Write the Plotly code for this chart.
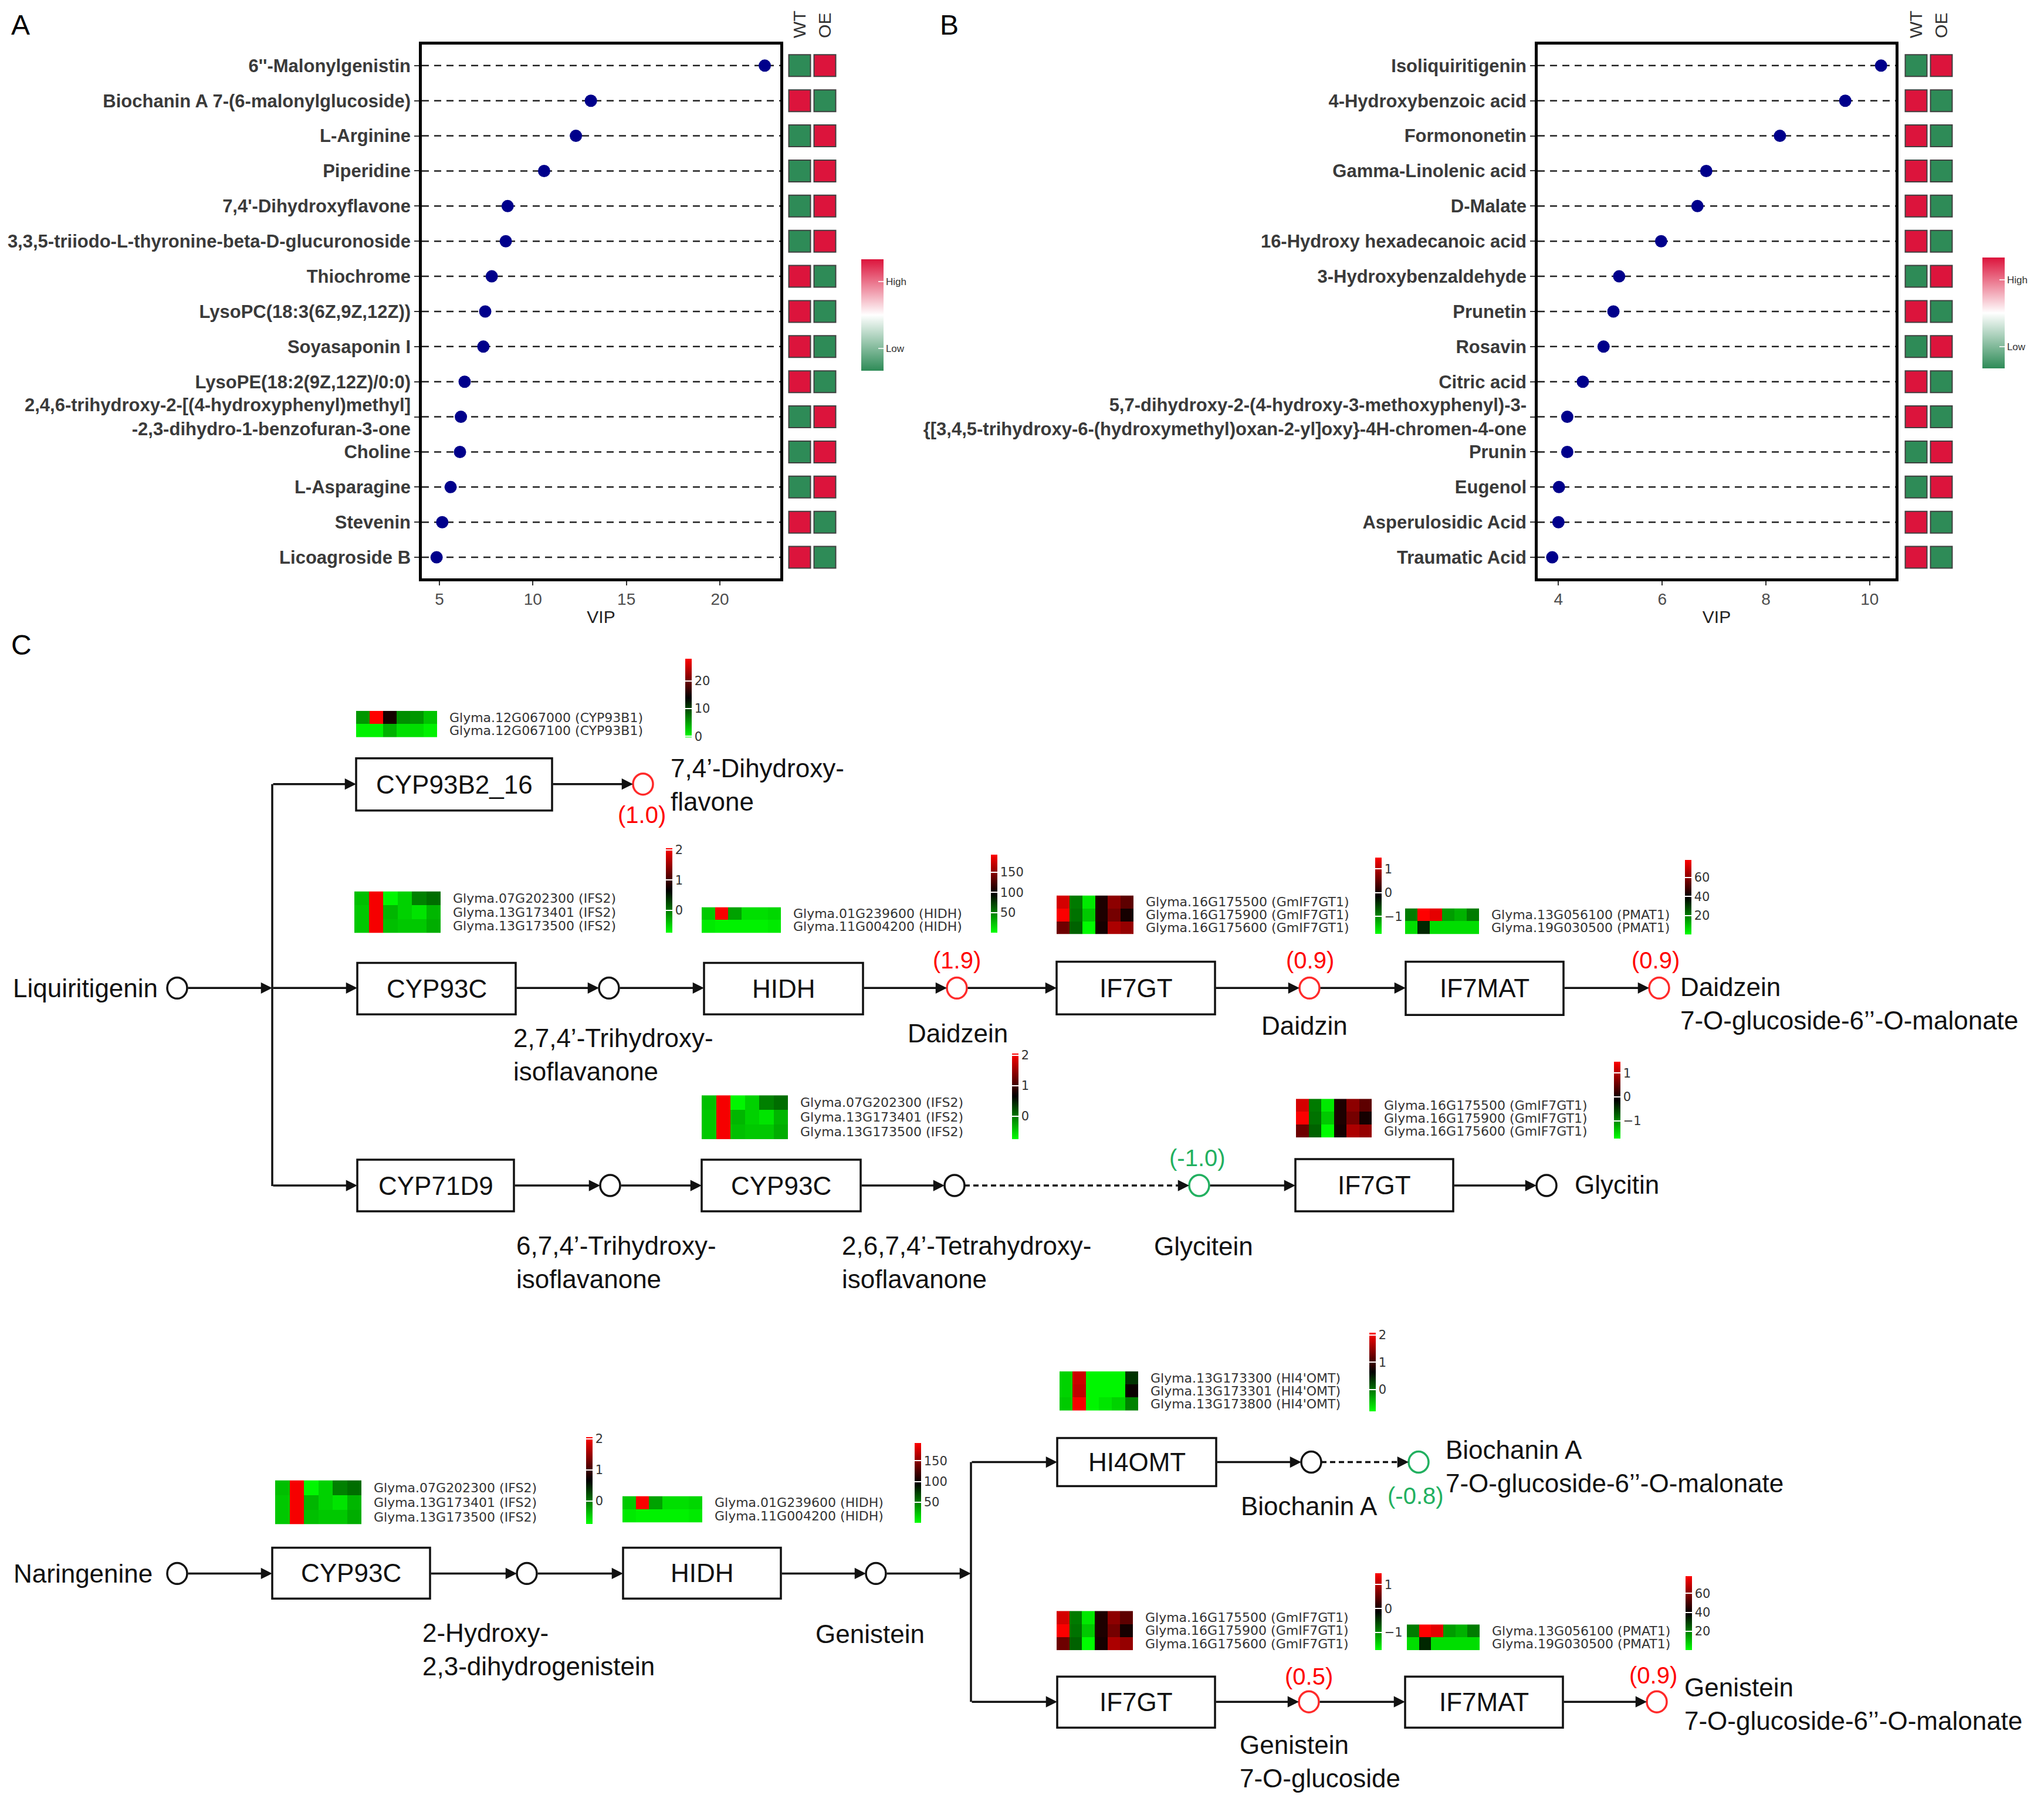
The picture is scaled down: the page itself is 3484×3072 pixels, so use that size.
import plotly.graph_objects as go

W, H = 3484, 3072
OFF = 8  # page margin compensation (px)
FONT = "Liberation Sans"
GFONT = "DejaVu Sans"
RED = "#DC143C"
GREEN = "#2E8B57"

# ---------------- Panel A data ----------------
a_names = ["6''-Malonylgenistin", "Biochanin A 7-(6-malonylglucoside)", "L-Arginine", "Piperidine",
           "7,4'-Dihydroxyflavone", "3,3,5-triiodo-L-thyronine-beta-D-glucuronoside", "Thiochrome",
           "LysoPC(18:3(6Z,9Z,12Z))", "Soyasaponin I", "LysoPE(18:2(9Z,12Z)/0:0)",
           "2,4,6-trihydroxy-2-[(4-hydroxyphenyl)methyl]<br>-2,3-dihydro-1-benzofuran-3-one",
           "Choline", "L-Asparagine", "Stevenin", "Licoagroside B"]
a_vip = [22.4, 13.1, 12.3, 10.6, 8.65, 8.55, 7.8, 7.45, 7.35, 6.35, 6.15, 6.1, 5.6, 5.15, 4.85]
a_wt = [0, 1, 0, 0, 0, 0, 1, 1, 1, 1, 0, 0, 0, 1, 1]
a_oe = [1, 0, 1, 1, 1, 1, 0, 0, 0, 0, 1, 1, 1, 0, 0]
a_ticks = [5, 10, 15, 20]

# ---------------- Panel B data ----------------
b_names = ["Isoliquiritigenin", "4-Hydroxybenzoic acid", "Formononetin", "Gamma-Linolenic acid",
           "D-Malate", "16-Hydroxy hexadecanoic acid", "3-Hydroxybenzaldehyde", "Prunetin", "Rosavin",
           "Citric acid",
           "5,7-dihydroxy-2-(4-hydroxy-3-methoxyphenyl)-3-<br>{[3,4,5-trihydroxy-6-(hydroxymethyl)oxan-2-yl]oxy}-4H-chromen-4-one",
           "Prunin", "Eugenol", "Asperulosidic Acid", "Traumatic Acid"]
b_vip = [10.22, 9.53, 8.27, 6.85, 6.68, 5.98, 5.17, 5.06, 4.87, 4.47, 4.17, 4.17, 4.01, 4.0, 3.88]
b_wt = [0, 1, 1, 1, 1, 1, 0, 1, 0, 1, 1, 0, 0, 1, 1]
b_oe = [1, 0, 0, 0, 0, 0, 1, 0, 1, 0, 0, 1, 1, 0, 0]
b_ticks = [4, 6, 8, 10]

groups = ["WT", "OE"]
legend_ticks = ["Low", "High"]

# ---------------- Panel C expression data ----------------
samples = [1, 2, 3, 4, 5, 6]
cyp93b1_genes = ["Glyma.12G067000 (CYP93B1)", "Glyma.12G067100 (CYP93B1)"]
cyp93b1_vals = [[5.5, 28, 15, 6, 5.5, 3],
                [0.5, 0.5, 4, 1.5, 1.5, 0.5]]
ifs2_genes = ["Glyma.07G202300 (IFS2)", "Glyma.13G173401 (IFS2)", "Glyma.13G173500 (IFS2)"]
ifs2_vals = [[-0.4, 2.0, -0.7, -0.5, -0.05, 0.05],
             [-0.45, 2.0, -0.35, -0.5, -0.6, -0.35],
             [-0.45, 2.0, -0.4, -0.45, -0.45, -0.3]]
hidh_genes = ["Glyma.01G239600 (HIDH)", "Glyma.11G004200 (HIDH)"]
hidh_vals = [[20, 190, 35, 12, 12, 15],
             [8, 5, 5, 5, 5, 8]]
if7gt_genes = ["Glyma.16G175500 (GmIF7GT1)", "Glyma.16G175900 (GmIF7GT1)", "Glyma.16G175600 (GmIF7GT1)"]
if7gt_vals = [[1.2, -0.9, -1.6, 0.05, 0.75, 0.45],
              [1.45, -0.85, -1.4, 0.05, 0.6, 0.0],
              [0.55, -0.75, -1.72, 0.0, 0.95, 0.8]]
pmat_genes = ["Glyma.13G056100 (PMAT1)", "Glyma.19G030500 (PMAT1)"]
pmat_vals = [[20, 78, 74, 15, 12, 20],
             [5, 33, 5, 5, 5, 5]]
omt_genes = ["Glyma.13G173300 (HI4'OMT)", "Glyma.13G173301 (HI4'OMT)", "Glyma.13G173800 (HI4'OMT)"]
omt_vals = [[-0.55, 1.8, -0.75, -0.75, -0.75, 0.35],
            [-0.55, 1.75, -0.75, -0.75, -0.75, 0.7],
            [-0.5, 2.05, -0.75, -0.65, -0.55, -0.1]]

# fold changes of metabolites (log2)
fc_dihydroxyflavone = "(1.0)"
fc_daidzein = "(1.9)"
fc_daidzin = "(0.9)"
fc_daidzein_mal = "(0.9)"
fc_glycitein = "(-1.0)"
fc_biochanin_mal = "(-0.8)"
fc_genistin = "(0.5)"
fc_genistin_mal = "(0.9)"

# ---------------- helpers ----------------
def px(x):
    return (x - OFF) / W


def py(y):
    return 1 - (y - OFF) / H


fig = go.Figure()
layout = {}
shapes = []
ann = []


def vip_panel(names, vip, wt, oe, xa, ya, xh, xdom, ydom, hdom, xrange, xticks, cb):
    n = len(names)
    xkey = "xaxis" + xa[1:]
    ykey = "yaxis" + ya[1:]
    hkey = "xaxis" + xh[1:]
    for nm in names:
        shapes.append(dict(type="line", xref=f"{xa} domain", x0=0, x1=1, yref=ya, y0=nm, y1=nm,
                           line=dict(color="#222222", width=2.5, dash="12px,9px"), layer="below"))
    fig.add_trace(go.Scatter(x=vip, y=names, xaxis=xa, yaxis=ya, mode="markers",
                             marker=dict(color="#00008B", size=21), hoverinfo="skip"))
    fig.add_trace(go.Scatter(
        x=[groups[0]] * n + [groups[1]] * n, y=names + names, xaxis=xh, yaxis=ya, mode="markers",
        marker=dict(symbol="square", size=37, color=wt + oe, cmin=0, cmax=1,
                    colorscale=[[0, GREEN], [0.5, "#FFFFFF"], [1, RED]],
                    line=dict(color="#404040", width=2), showscale=True,
                    colorbar=dict(x=px(cb[0]), xanchor="left", y=py(cb[2]), yanchor="bottom",
                                  len=cb[2] - cb[1], lenmode="pixels", thickness=38, thicknessmode="pixels",
                                  tickmode="array", tickvals=[0.2, 0.8], ticktext=legend_ticks,
                                  ticks="inside", ticklen=9, tickcolor="rgba(255,255,255,0.8)", tickwidth=2,
                                  tickfont=dict(size=17, color="#333333", family=FONT),
                                  outlinewidth=0, xpad=0, ypad=0)),
        hoverinfo="skip"))
    layout[xkey] = dict(domain=[px(xdom[0]), px(xdom[1])], anchor=ya, range=xrange,
                        tickmode="array", tickvals=xticks, ticks="outside", ticklen=7, tickwidth=2,
                        tickcolor="#333333", showline=True, mirror=True, linewidth=4.5, linecolor="black",
                        showgrid=False, zeroline=False,
                        tickfont=dict(size=28, color="#4D4D4D", family=FONT),
                        title=dict(text="VIP", font=dict(size=30, color="#222222", family=FONT), standoff=6))
    layout[ykey] = dict(domain=[py(ydom[1]), py(ydom[0])], anchor=xa, type="category",
                        categoryarray=names, range=[n - 1 + 0.6, -0.6],
                        tickmode="array", tickvals=names, ticktext=names,
                        ticks="outside", ticklen=8, tickwidth=2, tickcolor="#333333",
                        showline=True, mirror=True, linewidth=4.5, linecolor="black",
                        showgrid=False, zeroline=False,
                        tickfont=dict(size=31, color="#3A3A3A", family=FONT, weight="bold"))
    layout[hkey] = dict(domain=[px(hdom[0]), px(hdom[1])], anchor=ya, type="category",
                        categoryarray=groups, range=[-0.5, 1.5], side="top", tickangle=-90,
                        ticks="", showline=False, showgrid=False, zeroline=False, ticklabelstandoff=10,
                        tickfont=dict(size=30, color="#333333", family=FONT))


vip_panel(a_names, a_vip, a_wt, a_oe, "x", "y", "x2", (719, 1330), (75, 986), (1341.5, 1427.5),
          [4.06, 23.23], a_ticks, (1468, 442, 632))
vip_panel(b_names, b_vip, b_wt, b_oe, "x3", "y3", "x4", (2621, 3231), (75, 986), (3244.5, 3330.5),
          [3.6, 10.5], b_ticks, (3379, 439, 628))

# ---------------- Panel C heatmaps ----------------
GR = [[0, "#00FF00"], [0.5, "#000000"], [1, "#FF0000"]]
hm_data = {
    "cyp93b1": (cyp93b1_genes, cyp93b1_vals, -0.3, 28, [0, 10, 20]),
    "ifs2": (ifs2_genes, ifs2_vals, -0.75, 2.05, [0, 1, 2]),
    "hidh": (hidh_genes, hidh_vals, 0, 192, [50, 100, 150]),
    "if7gt": (if7gt_genes, if7gt_vals, -1.74, 1.47, [-1, 0, 1]),
    "pmat": (pmat_genes, pmat_vals, 0, 78, [20, 40, 60]),
    "omt": (omt_genes, omt_vals, -0.8, 2.09, [0, 1, 2]),
}
placements = [
    ("cyp93b1", (607, 745, 1212, 1257), (1168, 1123, 1257)),
    ("ifs2", (604, 751, 1520, 1591), (1135, 1447, 1591)),
    ("hidh", (1196, 1331, 1547, 1591), (1689, 1458, 1591)),
    ("if7gt", (1801, 1932, 1527, 1593), (2344, 1463, 1593)),
    ("pmat", (2395, 2521, 1549, 1593), (2872, 1467, 1594)),
    ("ifs2", (1196, 1343, 1868, 1943), (1725, 1797, 1943)),
    ("if7gt", (2209, 2338, 1874, 1940), (2751, 1811, 1942)),
    ("omt", (1806, 1940, 2339, 2406), (2334, 2273, 2407)),
    ("ifs2", (469, 616, 2525, 2600), (999, 2452, 2600)),
    ("hidh", (1061, 1197, 2552, 2597), (1559, 2462, 2598)),
    ("if7gt", (1801, 1931, 2748, 2815), (2344, 2684, 2815)),
    ("pmat", (2398, 2522, 2771, 2815), (2873, 2689, 2815)),
]
for k, (key, (x0, x1, y0, y1), (cbx, cby0, cby1)) in enumerate(placements):
    n = 5 + k
    genes, vals, zmin, zmax, cticks = hm_data[key]
    fig.add_trace(go.Heatmap(
        z=vals, x=samples, y=genes, xaxis=f"x{n}", yaxis=f"y{n}", zmin=zmin, zmax=zmax,
        colorscale=GR, hoverinfo="skip",
        colorbar=dict(x=px(cbx), xanchor="left", y=py(cby1), yanchor="bottom", len=cby1 - cby0,
                      lenmode="pixels", thickness=11, thicknessmode="pixels", tickmode="array",
                      tickvals=cticks, ticks="inside", ticklen=11, tickwidth=2, tickcolor="white",
                      tickfont=dict(size=21, color="#333333", family=GFONT), outlinewidth=0,
                      xpad=0, ypad=0)))
    layout[f"xaxis{n}"] = dict(domain=[px(x0), px(x1)], anchor=f"y{n}", visible=False)
    layout[f"yaxis{n}"] = dict(domain=[py(y1), py(y0)], anchor=f"x{n}", side="right", type="category",
                               autorange="reversed", tickmode="array", tickvals=genes, ticktext=genes,
                               ticks="", ticklabelstandoff=20, showgrid=False, zeroline=False,
                               showline=False, tickfont=dict(size=22, color="#333333", family=GFONT))

# ---------------- Panel C pathway ----------------
LC = "#111111"
CRED = "#FF2A2A"
CGREEN = "#22B060"


def text(x, y, s, size=44, color=LC, xanchor="center"):
    ann.append(dict(x=px(x), y=py(y), xref="paper", yref="paper", text=s, showarrow=False,
                    xanchor=xanchor, yanchor="middle", align=xanchor if xanchor != "center" else "center",
                    font=dict(size=size, color=color, family=FONT)))


def box(x0, x1, y0, y1, label):
    shapes.append(dict(type="rect", xref="paper", yref="paper", x0=px(x0), x1=px(x1), y0=py(y1), y1=py(y0),
                       line=dict(color=LC, width=3.5), fillcolor="white"))
    text((x0 + x1) / 2, (y0 + y1) / 2, label)


def circ(cx, cy, color=LC):
    shapes.append(dict(type="circle", xref="paper", yref="paper", x0=px(cx - 17), x1=px(cx + 17),
                       y0=py(cy + 18), y1=py(cy - 18), line=dict(color=color, width=3.5),
                       fillcolor="white"))


def arrow(x0, x1, y):
    ann.append(dict(x=px(x1), y=py(y), xref="paper", yref="paper", ax=x0 - x1, ay=0,
                    axref="pixel", ayref="pixel", showarrow=True, arrowhead=2, arrowsize=1.1,
                    arrowwidth=3.5, arrowcolor=LC, text="", standoff=0))


def dashed_arrow(x0, x1, y):
    shapes.append(dict(type="line", xref="paper", yref="paper", x0=px(x0), x1=px(x1 - 12), y0=py(y), y1=py(y),
                       line=dict(color=LC, width=3.5, dash="9px,6px")))
    arrow(x1 - 14, x1, y)


def vline(x, y0, y1):
    shapes.append(dict(type="line", xref="paper", yref="paper", x0=px(x), x1=px(x), y0=py(y0), y1=py(y1),
                       line=dict(color=LC, width=3.5)))


# top section
vline(464, 1337, 2023)
# CYP93B2 branch
arrow(464, 607, 1337)
box(607, 941, 1293, 1382, "CYP93B2_16")
arrow(941, 1079, 1337)
circ(1096, 1337, CRED)
text(1094, 1389, fc_dihydroxyflavone, size=40, color="#FF0000")
text(1141, 1338, "7,4’-Dihydroxy-<br>flavone", xanchor="left")

# middle branch
text(271, 1685, "Liquiritigenin", xanchor="right")
circ(302, 1685)
arrow(319, 464, 1685)
arrow(464, 609, 1685)
box(609, 879, 1642, 1730, "CYP93C")
arrow(879, 1021, 1685)
circ(1038, 1685)
text(873, 1799, "2,7,4’-Trihydroxy-<br>isoflavanone", xanchor="left")
arrow(1055, 1200, 1685)
box(1200, 1471, 1642, 1730, "HIDH")
arrow(1471, 1614, 1685)
circ(1631, 1685, CRED)
text(1631, 1638, fc_daidzein, size=40, color="#FF0000")
text(1632, 1762, "Daidzein")
arrow(1648, 1801, 1685)
box(1801, 2071, 1640, 1730, "IF7GT")
arrow(2071, 2215, 1685)
circ(2232, 1685, CRED)
text(2233, 1638, fc_daidzin, size=40, color="#FF0000")
text(2223, 1749, "Daidzin")
arrow(2249, 2396, 1685)
box(2396, 2665, 1640, 1731, "IF7MAT")
arrow(2665, 2811, 1685)
circ(2828, 1685, CRED)
text(2822, 1638, fc_daidzein_mal, size=40, color="#FF0000")
text(2862, 1712, "Daidzein<br>7-O-glucoside-6’’-O-malonate", xanchor="left")

# lower branch of top section
arrow(464, 609, 2022)
box(609, 876, 1978, 2066, "CYP71D9")
arrow(876, 1023, 2022)
circ(1040, 2022)
text(878, 2153, "6,7,4’-Trihydroxy-<br>isoflavanone", xanchor="left")
arrow(1057, 1196, 2022)
box(1196, 1467, 1978, 2066, "CYP93C")
arrow(1467, 1610, 2022)
circ(1627, 2022)
text(1433, 2153, "2,6,7,4’-Tetrahydroxy-<br>isoflavanone", xanchor="left")
dashed_arrow(1644, 2027, 2022)
circ(2044, 2022, CGREEN)
text(2041, 1975, fc_glycitein, size=40, color=CGREEN)
text(2051, 2126, "Glycitein")
arrow(2061, 2208, 2022)
box(2208, 2477, 1977, 2066, "IF7GT")
arrow(2477, 2619, 2022)
circ(2636, 2022)
text(2682, 2020, "Glycitin", xanchor="left")

# bottom section
text(262, 2684, "Naringenine", xanchor="right")
circ(302, 2684)
arrow(319, 464, 2684)
box(464, 733, 2640, 2727, "CYP93C")
arrow(733, 881, 2684)
circ(898, 2684)
text(718, 2814, "2-Hydroxy-<br>2,3-dihydrogenistein", xanchor="left")
arrow(915, 1062, 2684)
box(1062, 1331, 2640, 2727, "HIDH")
arrow(1331, 1476, 2684)
circ(1493, 2684)
text(1483, 2787, "Genistein")
arrow(1510, 1655, 2684)
vline(1655, 2494, 2903)
arrow(1655, 1802, 2494)
box(1802, 2073, 2453, 2535, "HI4OMT")
arrow(2073, 2218, 2494)
circ(2235, 2494)
text(2113, 2569, "Biochanin A", xanchor="left")
dashed_arrow(2252, 2401, 2494)
circ(2418, 2494, CGREEN)
text(2413, 2551, fc_biochanin_mal, size=40, color=CGREEN)
text(2462, 2501, "Biochanin A<br>7-O-glucoside-6’’-O-malonate", xanchor="left")
arrow(1655, 1802, 2903)
box(1802, 2071, 2860, 2947, "IF7GT")
arrow(2071, 2214, 2903)
circ(2231, 2903, CRED)
text(2231, 2860, fc_genistin, size=40, color="#FF0000")
text(2111, 3005, "Genistein<br>7-O-glucoside", xanchor="left")
arrow(2248, 2395, 2903)
box(2395, 2664, 2860, 2947, "IF7MAT")
arrow(2664, 2807, 2903)
circ(2824, 2903, CRED)
text(2818, 2858, fc_genistin_mal, size=40, color="#FF0000")
text(2869, 2907, "Genistein<br>7-O-glucoside-6’’-O-malonate", xanchor="left")

# panel letters
text(17, 42, "A", size=48, color="black", xanchor="left")
text(1600, 42, "B", size=48, color="black", xanchor="left")
text(17, 1100, "C", size=48, color="black", xanchor="left")

fig.update_layout(width=W, height=H, margin=dict(l=0, r=0, t=0, b=0), plot_bgcolor="white",
                  paper_bgcolor="white", showlegend=False, hovermode=False,
                  font=dict(family=FONT, color="#333333"), shapes=shapes, annotations=ann, **layout)
fig.write_html("out.html")
